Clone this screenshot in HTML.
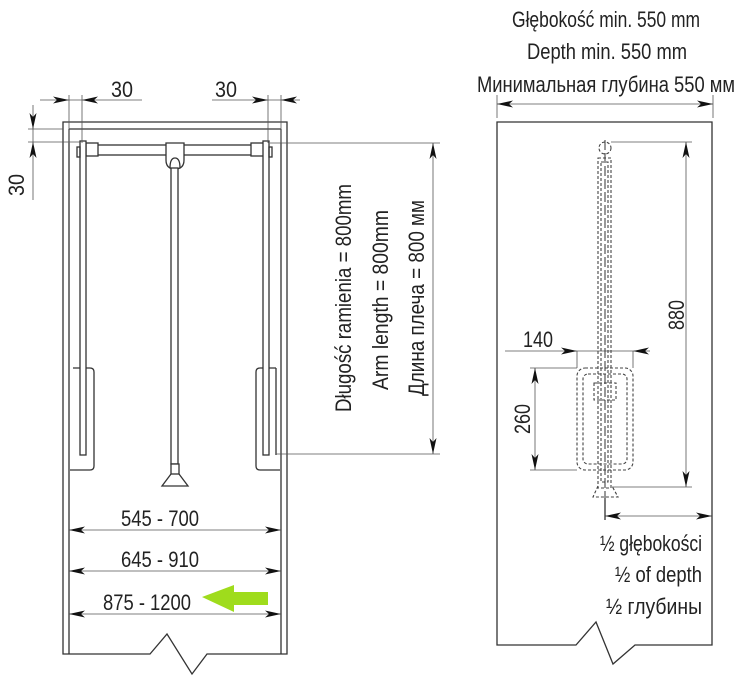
<!DOCTYPE html>
<html><head><meta charset="utf-8"><style>
html,body{margin:0;padding:0;background:#fff;}
svg{display:block;font-family:"Liberation Sans",sans-serif;}
text{fill:#222;}
</style></head><body>
<svg width="740" height="681" viewBox="0 0 740 681" xmlns="http://www.w3.org/2000/svg">
<g fill="none" stroke="#333" stroke-width="1.3">
<path d="M63,122 H287 V654 H207 L192,674 L167,634 L150,654 H63 Z" fill="#fff"/>
<line x1="69" y1="129" x2="69" y2="654"/>
<line x1="281" y1="129" x2="281" y2="654"/>
<line x1="69" y1="129" x2="281" y2="129"/>
<rect x="86" y="145" width="178" height="10" fill="#fff"/>
<rect x="86" y="143" width="12" height="13" fill="#fff"/>
<rect x="251" y="143" width="13" height="13" fill="#fff"/>
<path d="M166,143 H184 V160 Q184,169 175,169 Q166,169 166,160 Z" fill="#fff"/>
<path d="M170,168 Q170,158 175,158 Q180,158 180,168"/>
<rect x="171" y="168" width="7" height="296" fill="#fff"/>
<rect x="171" y="464" width="8" height="10" fill="#fff"/>
<path d="M171,474 L162,486 H188 L179,474"/>
<path d="M73,368 H90 Q94,368 94,372 V466 Q94,470 90,470 H70" fill="#fff"/>
<rect x="80" y="141" width="6" height="314" fill="#fff"/>
<rect x="77" y="147" width="3" height="10"/>
<path d="M276,368 H260 Q256,368 256,372 V466 Q256,470 260,470 H280" fill="#fff"/>
<rect x="263" y="141" width="6" height="314" fill="#fff"/>
<rect x="269" y="147" width="3" height="10"/>
<line x1="276" y1="368" x2="276" y2="455"/>
</g>
<g stroke="#555" stroke-width="0.8" fill="none">
<line x1="69" y1="95" x2="69" y2="143"/><line x1="82" y1="95" x2="82" y2="143"/>
<line x1="40" y1="100" x2="142" y2="100"/>
<line x1="268" y1="95" x2="268" y2="143"/><line x1="281" y1="95" x2="281" y2="143"/>
<line x1="212" y1="100" x2="300" y2="100"/>
<line x1="28" y1="129" x2="63" y2="129"/><line x1="28" y1="142" x2="80" y2="142"/>
<line x1="33" y1="105" x2="33" y2="200"/>
<line x1="270" y1="143" x2="440" y2="143"/>
<line x1="276" y1="454" x2="440" y2="454"/>
<line x1="433" y1="143" x2="433" y2="454"/>
<line x1="69" y1="530" x2="281" y2="530"/>
<line x1="69" y1="571" x2="281" y2="571"/>
<line x1="69" y1="614" x2="281" y2="614"/>
<line x1="497" y1="95" x2="497" y2="118"/><line x1="713" y1="95" x2="713" y2="118"/>
<line x1="497" y1="104" x2="713" y2="104"/>
<line x1="611" y1="142" x2="692" y2="142"/>
<line x1="612" y1="487" x2="692" y2="487"/>
<line x1="686" y1="142" x2="686" y2="487"/>
<line x1="505" y1="351" x2="650" y2="351"/>
<line x1="577" y1="351" x2="577" y2="368"/><line x1="633" y1="351" x2="633" y2="368"/>
<line x1="530" y1="368" x2="577" y2="368"/><line x1="530" y1="470" x2="577" y2="470"/>
<line x1="535" y1="368" x2="535" y2="470"/>
<line x1="605" y1="516" x2="712" y2="516"/>
</g>
<g fill="#111">
<!-- right-pointing -->
<path d="M69,100 l-16,-3.5 l4,3.5 l-4,3.5Z"/>
<path d="M268,100 l-16,-3.5 l4,3.5 l-4,3.5Z"/>
<path d="M281,530 l-16,-3.5 l4,3.5 l-4,3.5Z"/>
<path d="M281,571 l-16,-3.5 l4,3.5 l-4,3.5Z"/>
<path d="M281,614 l-16,-3.5 l4,3.5 l-4,3.5Z"/>
<path d="M713,104 l-16,-3.5 l4,3.5 l-4,3.5Z"/>
<path d="M577,351 l-16,-3.5 l4,3.5 l-4,3.5Z"/>
<path d="M712,516 l-16,-3.5 l4,3.5 l-4,3.5Z"/>
<!-- left-pointing -->
<path d="M82,100 l16,-3.5 l-4,3.5 l4,3.5Z"/>
<path d="M281,100 l16,-3.5 l-4,3.5 l4,3.5Z"/>
<path d="M69,530 l16,-3.5 l-4,3.5 l4,3.5Z"/>
<path d="M69,571 l16,-3.5 l-4,3.5 l4,3.5Z"/>
<path d="M69,614 l16,-3.5 l-4,3.5 l4,3.5Z"/>
<path d="M497,104 l16,-3.5 l-4,3.5 l4,3.5Z"/>
<path d="M633,351 l16,-3.5 l-4,3.5 l4,3.5Z"/>
<path d="M605,516 l16,-3.5 l-4,3.5 l4,3.5Z"/>
<!-- up-pointing -->
<path d="M33,142 l-3.5,16 l3.5,-4 l3.5,4Z"/>
<path d="M433,143 l-3.5,16 l3.5,-4 l3.5,4Z"/>
<path d="M686,142 l-3.5,16 l3.5,-4 l3.5,4Z"/>
<path d="M535,368 l-3.5,16 l3.5,-4 l3.5,4Z"/>
<!-- down-pointing -->
<path d="M33,129 l-3.5,-16 l3.5,4 l3.5,-4Z"/>
<path d="M433,454 l-3.5,-16 l3.5,4 l3.5,-4Z"/>
<path d="M686,487 l-3.5,-16 l3.5,4 l3.5,-4Z"/>
<path d="M535,470 l-3.5,-16 l3.5,4 l3.5,-4Z"/>
</g>
<path d="M202,597 L234,585 V592 H268 V605 H234 V612 Z" fill="#9fdc1c"/>
<g font-size="22">
<text x="122" y="97" text-anchor="middle" textLength="22" lengthAdjust="spacingAndGlyphs">30</text>
<text x="226" y="97" text-anchor="middle" textLength="22" lengthAdjust="spacingAndGlyphs">30</text>
<text transform="translate(24,185) rotate(-90)" text-anchor="middle" textLength="22" lengthAdjust="spacingAndGlyphs">30</text>
<text x="160" y="526" text-anchor="middle" textLength="78" lengthAdjust="spacingAndGlyphs">545 - 700</text>
<text x="160" y="567" text-anchor="middle" textLength="78" lengthAdjust="spacingAndGlyphs">645 - 910</text>
<text x="147" y="610" text-anchor="middle" textLength="88" lengthAdjust="spacingAndGlyphs">875 - 1200</text>
<text transform="translate(351,298) rotate(-90)" text-anchor="middle" textLength="228" lengthAdjust="spacingAndGlyphs">Długość ramienia = 800mm</text>
<text transform="translate(388,300) rotate(-90)" text-anchor="middle" textLength="180" lengthAdjust="spacingAndGlyphs">Arm length = 800mm</text>
<text transform="translate(424,298) rotate(-90)" text-anchor="middle" textLength="196" lengthAdjust="spacingAndGlyphs">Длина плеча = 800 мм</text>
<text x="606" y="27" text-anchor="middle" textLength="188" lengthAdjust="spacingAndGlyphs">Głębokość min. 550 mm</text>
<text x="607" y="59" text-anchor="middle" textLength="160" lengthAdjust="spacingAndGlyphs">Depth min. 550 mm</text>
<text x="606" y="92" text-anchor="middle" textLength="258" lengthAdjust="spacingAndGlyphs">Минимальная глубина 550 мм</text>
<text x="538" y="347" text-anchor="middle" textLength="30" lengthAdjust="spacingAndGlyphs">140</text>
<text transform="translate(530,419) rotate(-90)" text-anchor="middle" textLength="30" lengthAdjust="spacingAndGlyphs">260</text>
<text transform="translate(684,315) rotate(-90)" text-anchor="middle" textLength="30" lengthAdjust="spacingAndGlyphs">880</text>
<text x="702" y="551" text-anchor="end" textLength="102" lengthAdjust="spacingAndGlyphs">½ głębokości</text>
<text x="702" y="582" text-anchor="end" textLength="87" lengthAdjust="spacingAndGlyphs">½ of depth</text>
<text x="702" y="614" text-anchor="end" textLength="96" lengthAdjust="spacingAndGlyphs">½ глубины</text>
</g>
<g fill="none" stroke="#333" stroke-width="1.3">
<path d="M497,122 H712 V645 H635 L613,664 L596,622 L576,645 H497 Z"/>
</g>
<line x1="605" y1="498" x2="605" y2="520" stroke="#222" stroke-width="1.2"/>
<g fill="none" stroke="#444" stroke-width="1.1" stroke-dasharray="3,2">
<circle cx="605" cy="148" r="6"/>
<rect x="598" y="158" width="13" height="330"/>
<rect x="601" y="162" width="7" height="320"/>
<rect x="577" y="368" width="56" height="102" rx="8"/>
<rect x="583" y="374" width="44" height="90" rx="5"/>
<rect x="594" y="383" width="22" height="17"/>
<path d="M598,486 L593,497 H618 L612,486"/>
</g>
<line x1="605" y1="140" x2="605" y2="500" stroke="#333" stroke-width="1" stroke-dasharray="10,3"/>
</svg>
</body></html>
